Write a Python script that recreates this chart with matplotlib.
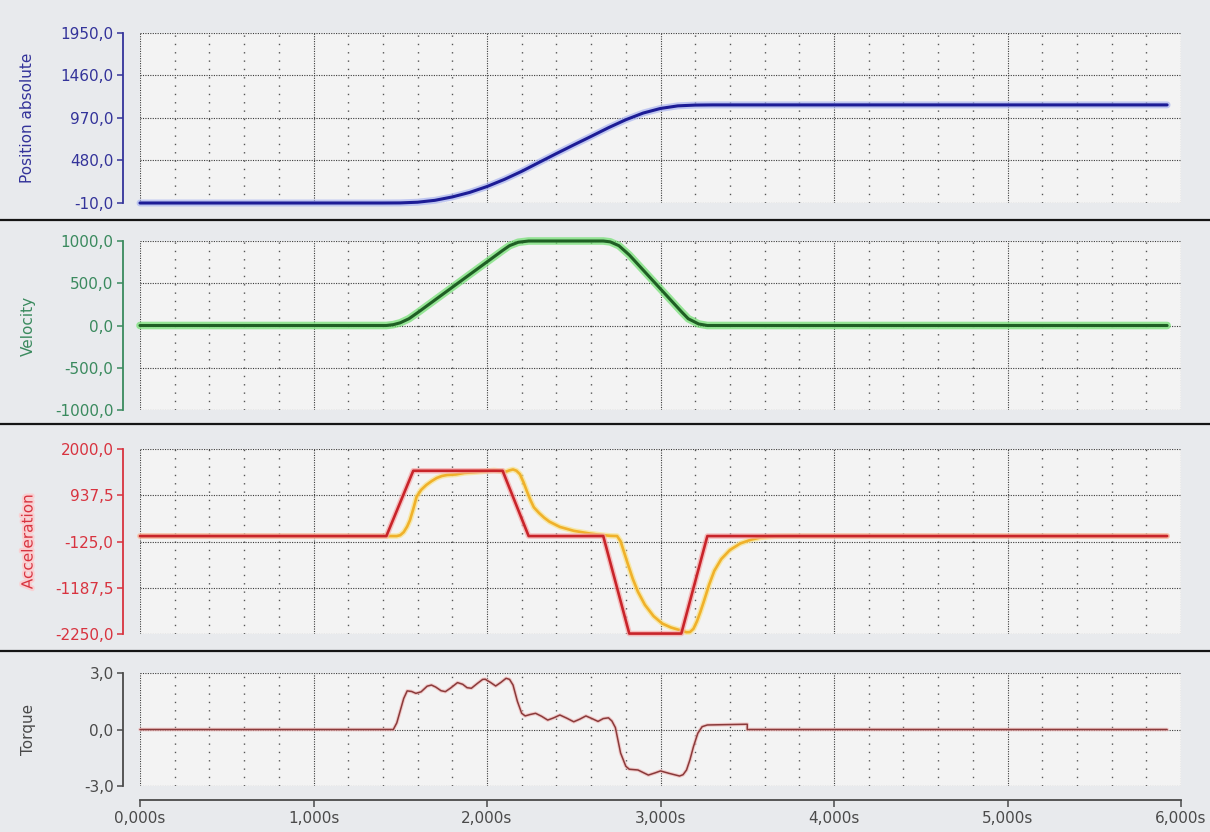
import matplotlib
matplotlib.use("Agg")
import matplotlib.pyplot as plt
from matplotlib import patheffects as pe
from matplotlib.lines import Line2D
from matplotlib.ticker import FixedLocator, MultipleLocator, FuncFormatter

# ---- recorded signals (time in seconds) ----
time_position = [0.0, 1.40, 1.50, 1.60, 1.70, 1.80, 1.90, 2.00, 2.10, 2.20, 2.30,
                 2.40, 2.50, 2.60, 2.70, 2.80, 2.90, 3.00, 3.10, 3.20, 3.30, 5.92]
position = [-10, -10, -9, -1, 21, 60, 112, 180, 262, 355, 458,
            560, 660, 758, 858, 950, 1027, 1080, 1110, 1119, 1121, 1121]

time_velocity = [0.0, 1.42, 1.46, 1.50, 1.55, 1.60, 2.09, 2.13, 2.18, 2.24,
                 2.67, 2.71, 2.76, 2.82, 3.12, 3.16, 3.22, 3.27, 5.92]
velocity = [0, 0, 10, 32, 80, 152, 888, 945, 985, 1000,
            1000, 990, 945, 835, 165, 80, 18, 0, 0]

time_accel_set = [0.0, 1.42, 1.575, 2.09, 2.24, 2.67, 2.82, 3.12, 3.27, 5.92]
accel_set = [0, 0, 1500, 1500, 0, 0, -2240, -2240, 0, 0]

time_accel_act = [0.0, 1.48, 1.50, 1.52, 1.54, 1.556, 1.575, 1.594, 1.62, 1.65,
                  1.68, 1.71, 1.74, 1.77, 1.80, 1.82, 1.87, 1.94, 2.04, 2.08,
                  2.11, 2.13, 2.15, 2.17, 2.19, 2.21, 2.23, 2.25, 2.27, 2.30,
                  2.33, 2.36, 2.42, 2.50, 2.59, 2.67, 2.71, 2.75, 2.77, 2.79,
                  2.81, 2.84, 2.87, 2.91, 2.96, 3.01, 3.06, 3.11, 3.15, 3.17,
                  3.19, 3.21, 3.23, 3.25, 3.28, 3.31, 3.35, 3.40, 3.46, 3.52,
                  3.58, 3.66, 3.75, 5.92]
accel_act = [0, 0, 20, 90, 220, 365, 620, 900, 1060, 1173,
             1260, 1334, 1380, 1403, 1410, 1415, 1450, 1470, 1510, 1490,
             1480, 1510, 1530, 1500, 1420, 1240, 1030, 830, 660, 530,
             420, 330, 210, 120, 60, 20, 5, 0, -120, -370,
             -620, -980, -1280, -1580, -1840, -2010, -2100, -2160, -2210, -2205,
             -2130, -1960, -1740, -1500, -1120, -800, -530, -320, -170, -85,
             -30, -5, 0, 0]

time_torque = [0.0, 1.46, 1.48, 1.50, 1.52, 1.54, 1.565, 1.59, 1.62, 1.655,
               1.68, 1.705, 1.735, 1.76, 1.79, 1.83, 1.86, 1.885, 1.91, 1.945,
               1.975, 1.99, 2.02, 2.05, 2.08, 2.11, 2.13, 2.15, 2.175, 2.20,
               2.22, 2.25, 2.28, 2.315, 2.35, 2.385, 2.42, 2.46, 2.50, 2.535,
               2.57, 2.605, 2.64, 2.67, 2.70, 2.72, 2.74, 2.77, 2.80, 2.82,
               2.87, 2.93, 2.97, 3.00, 3.05, 3.11, 3.13, 3.15, 3.17, 3.19,
               3.215, 3.24, 3.27, 3.50, 3.50, 5.92]
torque = [0.0, 0.0, 0.35, 1.0, 1.65, 2.05, 2.02, 1.92, 2.0, 2.3,
          2.36, 2.25, 2.06, 2.01, 2.2, 2.49, 2.4, 2.22, 2.19, 2.45,
          2.66, 2.67, 2.5, 2.31, 2.5, 2.72, 2.66, 2.36, 1.5, 0.86,
          0.72, 0.8, 0.86, 0.7, 0.50, 0.62, 0.77, 0.6, 0.41, 0.55,
          0.72, 0.58, 0.43, 0.58, 0.62, 0.45, 0.1, -1.25, -1.95, -2.11,
          -2.15, -2.42, -2.3, -2.20, -2.33, -2.47, -2.4, -2.15, -1.6, -0.91,
          -0.2, 0.15, 0.24, 0.28, 0.0, 0.0]

pos_ticks = [-10.0, 480.0, 970.0, 1460.0, 1950.0]
vel_ticks = [-1000.0, -500.0, 0.0, 500.0, 1000.0]
acc_ticks = [-2250.0, -1187.5, -125.0, 937.5, 2000.0]
trq_ticks = [-3.0, 0.0, 3.0]
time_ticks = [0, 1, 2, 3, 4, 5, 6]

# ---- layout (pixels) ----
W, H = 1210, 832
BG = "#e8eaed"
PLOT_BG = "#f3f3f3"
X0, X1 = 140, 1181
TICK_FS = 11
LABEL_FS = 11

fig = plt.figure(figsize=(W / 100, H / 100), dpi=100, facecolor=BG)


def comma(v, _=None):
    return f"{v:.1f}".replace(".", ",")


def make_panel(top, bottom, ticks, color, label, label_glow=None):
    ax = fig.add_axes([X0 / W, 1 - bottom / H, (X1 - X0) / W, (bottom - top) / H])
    ax.set_facecolor(PLOT_BG)
    ax.set_xlim(0, 6)
    ax.set_ylim(ticks[0], ticks[-1])
    ax.set_yticks(ticks)
    labels = ax.set_yticklabels([comma(t) for t in ticks])
    ax.xaxis.set_major_locator(FixedLocator(time_ticks))
    ax.xaxis.set_minor_locator(MultipleLocator(0.2))
    for side in ("top", "right", "bottom"):
        ax.spines[side].set_visible(False)
    ax.spines["left"].set_position(("outward", 12))
    ax.spines["left"].set_color(color)
    ax.spines["left"].set_linewidth(1.3)
    ax.tick_params(axis="y", direction="out", length=4, width=1.1, color=color,
                   labelcolor=color, labelsize=TICK_FS, pad=3)
    ax.tick_params(axis="x", which="both", length=0, labelbottom=False)
    ax.grid(which="major", axis="both", color="#3a3a3a", linestyle=(0, (1, 1.2)),
            linewidth=0.8)
    ax.grid(which="minor", axis="x", color="#555555", linestyle=(0, (1, 5)),
            linewidth=1.0)
    ax.set_axisbelow(True)
    if label_glow:
        for lbl in labels:
            lbl.set_path_effects([pe.withStroke(linewidth=3, foreground=label_glow)])
    txt = fig.text(28 / W, 1 - (top + bottom) / 2 / H, label, rotation=90,
                   ha="center", va="center", color=color, fontsize=LABEL_FS)
    if label_glow:
        txt.set_path_effects([pe.withStroke(linewidth=3, foreground=label_glow)])
    return ax


def glow_line(ax, x, y, color, glow, lw, glow_lw, zorder=3):
    ax.plot(x, y, color=color, linewidth=lw, solid_joinstyle="round",
            solid_capstyle="round", clip_on=False, zorder=zorder,
            path_effects=[pe.Stroke(linewidth=glow_lw, foreground=glow, alpha=0.7),
                          pe.Normal()])


ax_pos = make_panel(33, 203, pos_ticks, "#33339a", "Position absolute")
glow_line(ax_pos, time_position, position, "#1c1c96", "#a9b4f0", 2.2, 5.0)

ax_vel = make_panel(241, 410, vel_ticks, "#3a8a5e", "Velocity")
glow_line(ax_vel, time_velocity, velocity, "#1f5f24", "#6fe06f", 2.2, 5.5)

ax_acc = make_panel(449, 634, acc_ticks, "#d8333f", "Acceleration", label_glow="#f9d0d2")
glow_line(ax_acc, time_accel_act, accel_act, "#f0b12a", "#f8e38a", 1.9, 4.0, zorder=3)
glow_line(ax_acc, time_accel_set, accel_set, "#c8242a", "#f6a8a8", 1.9, 4.0, zorder=4)

ax_trq = make_panel(673, 786, trq_ticks, "#4a4a4a", "Torque")
glow_line(ax_trq, time_torque, torque, "#8a3a3a", "#f0b8b8", 1.1, 2.6)

# time axis under the last panel
ax_trq.spines["bottom"].set_visible(True)
ax_trq.spines["bottom"].set_position(("outward", 10))
ax_trq.spines["bottom"].set_color("#4a4a4a")
ax_trq.spines["bottom"].set_linewidth(1.3)
ax_trq.xaxis.set_major_formatter(FuncFormatter(lambda v, _: f"{v:.3f}s".replace(".", ",")))
ax_trq.tick_params(axis="x", which="major", length=5, width=1.1, color="#4a4a4a",
                   labelcolor="#4a4a4a", labelsize=TICK_FS, labelbottom=True, pad=3)

# panel separators
for y in (220, 424, 651):
    fig.add_artist(Line2D([0, 1], [1 - y / H] * 2, transform=fig.transFigure,
                          color="#151515", linewidth=1.6))

fig.savefig("out.png", dpi=100, facecolor=BG)
